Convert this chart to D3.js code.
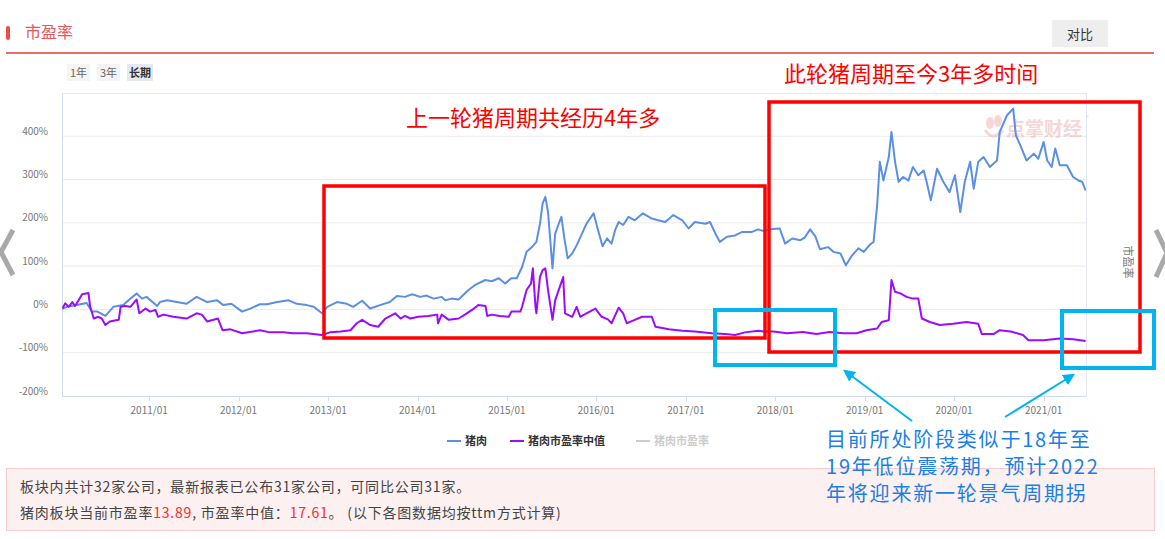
<!DOCTYPE html>
<html>
<head>
<meta charset="utf-8">
<title>市盈率</title>
<script src="https://d3js.org/d3.v7.min.js"></script>
<style>
  body { margin: 0; background: #fff; }
  text { font-family: "Noto Sans CJK SC", "Noto Sans", sans-serif; }
</style>
</head>
<body>
<script>
// series, time as decimal year, value in %
var porkSeries = [
  [2010.03,2],[2010.08,6],[2010.19,10],[2010.30,15],[2010.36,-5],[2010.42,-5],[2010.51,-15],[2010.60,6],
  [2010.71,10],[2010.79,25],[2010.86,37],[2010.92,25],[2010.97,29],[2011.09,8],[2011.12,17],[2011.20,21],
  [2011.31,17],[2011.42,13],[2011.53,29],[2011.65,17],[2011.76,21],[2011.83,10],[2011.92,13],[2012.04,-5],
  [2012.13,2],[2012.24,12],[2012.32,12],[2012.43,17],[2012.56,21],[2012.65,13],[2012.76,10],[2012.84,6],
  [2012.93,-9],[2012.99,6],[2013.10,17],[2013.21,13],[2013.28,6],[2013.38,20],[2013.47,2],[2013.58,10],
  [2013.69,17],[2013.77,31],[2013.86,29],[2013.94,35],[2014.03,29],[2014.10,32],[2014.18,25],[2014.27,29],
  [2014.31,21],[2014.38,25],[2014.46,23],[2014.57,45],[2014.64,56],[2014.76,68],[2014.83,65],[2014.91,72],
  [2014.98,60],[2015.05,72],[2015.11,72],[2015.17,98],[2015.22,133],[2015.28,144],[2015.33,156],[2015.37,198],
  [2015.40,245],[2015.43,260],[2015.46,225],[2015.51,95],[2015.54,175],[2015.58,198],[2015.61,214],[2015.64,168],
  [2015.68,118],[2015.73,129],[2015.78,148],[2015.84,175],[2015.89,198],[2015.97,222],[2016.02,183],[2016.07,146],
  [2016.12,164],[2016.17,152],[2016.21,183],[2016.25,202],[2016.30,195],[2016.36,214],[2016.43,206],[2016.52,222],
  [2016.62,210],[2016.69,206],[2016.77,202],[2016.86,218],[2016.96,206],[2017.03,187],[2017.10,202],[2017.22,198],
  [2017.27,202],[2017.33,175],[2017.38,156],[2017.46,168],[2017.55,171],[2017.63,179],[2017.74,179],[2017.81,185],
  [2017.87,181],[2017.94,185],[2018.05,187],[2018.11,152],[2018.19,164],[2018.28,160],[2018.33,166],[2018.39,185],
  [2018.45,168],[2018.50,139],[2018.59,144],[2018.65,133],[2018.73,129],[2018.79,102],[2018.86,125],[2018.93,141],
  [2018.99,133],[2019.06,150],[2019.10,156],[2019.14,241],[2019.17,341],[2019.21,298],[2019.27,352],[2019.30,410],
  [2019.34,341],[2019.38,295],[2019.43,306],[2019.49,298],[2019.54,329],[2019.60,310],[2019.66,321],[2019.69,298],
  [2019.74,252],[2019.81,325],[2019.88,295],[2019.95,271],[2020.01,310],[2020.07,225],[2020.12,295],[2020.18,341],
  [2020.22,279],[2020.27,341],[2020.33,352],[2020.40,329],[2020.48,344],[2020.51,410],[2020.59,448],[2020.66,464],
  [2020.69,402],[2020.74,379],[2020.81,344],[2020.89,360],[2020.94,348],[2021.00,387],[2021.04,344],[2021.09,329],
  [2021.13,372],[2021.18,333],[2021.26,333],[2021.33,306],[2021.39,298],[2021.43,295],[2021.47,275]
];

var medianSeries = [
  [2010.03,2],[2010.06,14],[2010.10,6],[2010.14,17],[2010.17,8],[2010.21,21],[2010.25,35],[2010.32,38],
  [2010.34,6],[2010.38,-21],[2010.43,-17],[2010.47,-21],[2010.51,-36],[2010.56,-28],[2010.66,-24],[2010.68,6],
  [2010.73,8],[2010.79,6],[2010.86,23],[2010.89,-9],[2010.96,2],[2011.01,-5],[2011.07,-1],[2011.10,-17],
  [2011.16,-12],[2011.27,-17],[2011.42,-21],[2011.53,-9],[2011.59,-12],[2011.65,-28],[2011.72,-24],[2011.77,-21],
  [2011.82,-48],[2011.91,-46],[2012.04,-55],[2012.24,-48],[2012.35,-53],[2012.50,-53],[2012.61,-55],[2012.76,-55],
  [2012.93,-59],[2013.02,-53],[2013.14,-51],[2013.25,-48],[2013.32,-32],[2013.38,-24],[2013.47,-36],[2013.56,-40],
  [2013.64,-21],[2013.75,-9],[2013.81,-21],[2013.86,-15],[2013.92,-21],[2014.01,-17],[2014.12,-15],[2014.22,-12],
  [2014.23,-32],[2014.27,-12],[2014.35,-24],[2014.46,-21],[2014.53,-12],[2014.63,2],[2014.68,10],[2014.76,8],
  [2014.78,-15],[2014.83,-12],[2014.92,-15],[2015.02,-17],[2015.05,-5],[2015.15,-5],[2015.17,6],[2015.22,45],
  [2015.27,60],[2015.29,95],[2015.32,6],[2015.33,-9],[2015.37,75],[2015.40,91],[2015.43,95],[2015.46,45],
  [2015.51,-24],[2015.54,21],[2015.58,45],[2015.63,75],[2015.65,-9],[2015.73,-17],[2015.78,6],[2015.82,-17],
  [2015.89,-9],[2015.99,2],[2016.06,-17],[2016.13,-23],[2016.17,-32],[2016.25,4],[2016.30,-9],[2016.34,-32],
  [2016.43,-24],[2016.51,-17],[2016.62,-17],[2016.66,-40],[2016.81,-46],[2016.96,-49],[2017.10,-51],[2017.29,-55],
  [2017.44,-57],[2017.55,-59],[2017.66,-53],[2017.81,-49],[2017.87,-51],[2017.98,-51],[2018.13,-55],[2018.31,-52],
  [2018.46,-57],[2018.61,-52],[2018.76,-55],[2018.91,-55],[2019.02,-48],[2019.14,-44],[2019.19,-29],[2019.27,-25],
  [2019.30,68],[2019.34,41],[2019.40,37],[2019.47,29],[2019.54,25],[2019.60,25],[2019.64,-21],[2019.73,-29],
  [2019.84,-36],[2019.99,-33],[2020.14,-29],[2020.27,-33],[2020.31,-57],[2020.44,-57],[2020.51,-48],[2020.63,-51],
  [2020.77,-59],[2020.83,-71],[2021.00,-71],[2021.18,-67],[2021.33,-69],[2021.47,-73]
];

var seriesNames = ["猪肉", "猪肉市盈率中值", "猪肉市盈率"];
var seriesColors = ["#5b8fe3", "#9b0cff", "#cccccc"];
var yTicks = [-200, -100, 0, 100, 200, 300, 400];
var periodButtons = ["1年", "3年", "长期"];
var xDomain = ["2010-01-10", "2021-06-23"];

function yearToDate(t) {
  var y = Math.floor(t);
  var a = Date.UTC(y, 0, 1), b = Date.UTC(y + 1, 0, 1);
  return new Date(a + (t - y) * (b - a));
}

var W = 1165, H = 539;
var plot = {left: 62, right: 1086, top: 93, bottom: 396};

var svg = d3.select("body").append("svg")
  .attr("width", W).attr("height", H);

// header
svg.append("rect").attr("x", 6).attr("y", 26).attr("width", 4).attr("height", 14)
  .attr("rx", 2).attr("fill", "#ef4a45");
svg.append("text").attr("x", 25).attr("y", 38).attr("font-size", 16)
  .attr("fill", "#e6575b").text("市盈率");
svg.append("line").attr("x1", 6).attr("x2", 1154).attr("y1", 53).attr("y2", 53)
  .attr("stroke", "#e23b3b").attr("stroke-width", 1.5);
svg.append("rect").attr("x", 1052).attr("y", 20).attr("width", 56).attr("height", 27)
  .attr("fill", "#eeeeee");
svg.append("text").attr("x", 1080).attr("y", 38.5).attr("text-anchor", "middle")
  .attr("font-size", 13).attr("fill", "#333").text("对比");

var btnX = [67, 97, 127];
periodButtons.forEach(function(b, i) {
  var w = i == 2 ? 26 : 23;
  svg.append("rect").attr("x", btnX[i]).attr("y", 64).attr("width", w).attr("height", 17)
    .attr("fill", i == 2 ? "#e4e8f1" : "#f4f4f4");
  svg.append("text").attr("x", btnX[i] + w / 2).attr("y", 76.5).attr("text-anchor", "middle")
    .attr("font-size", 11).attr("font-weight", i == 2 ? "bold" : "normal")
    .attr("fill", i == 2 ? "#333" : "#666").text(b);
});

// side chevrons
svg.append("polyline").attr("points", "13,230 1,252 13,275")
  .attr("fill", "none").attr("stroke", "#a9a9a9").attr("stroke-width", 5);
svg.append("polyline").attr("points", "1156,230 1167,253 1156,277")
  .attr("fill", "none").attr("stroke", "#a9a9a9").attr("stroke-width", 5);

// scales
var x = d3.scaleUtc().domain(xDomain.map(function(d) { return new Date(d); }))
  .range([plot.left, plot.right]);
var y = d3.scaleLinear().domain([-200, 500]).range([plot.bottom, plot.top]);

// grid
svg.append("g").selectAll("line").data(yTicks.filter(function(d) { return d > -200; }))
  .enter().append("line")
  .attr("x1", plot.left).attr("x2", plot.right)
  .attr("y1", function(d) { return y(d); }).attr("y2", function(d) { return y(d); })
  .attr("stroke", "#ebebeb");
svg.append("rect").attr("x", plot.left + 0.5).attr("y", plot.top + 0.5)
  .attr("width", plot.right - plot.left).attr("height", plot.bottom - plot.top)
  .attr("fill", "none").attr("stroke", "#e3e7f2");
svg.append("line").attr("x1", plot.left).attr("x2", plot.right)
  .attr("y1", plot.bottom + 0.5).attr("y2", plot.bottom + 0.5).attr("stroke", "#d4dbee");
svg.append("line").attr("x1", plot.left + 0.5).attr("x2", plot.left + 0.5)
  .attr("y1", plot.top).attr("y2", plot.bottom).attr("stroke", "#d4dbee");

// y labels
svg.append("g").selectAll("text").data(yTicks).enter().append("text")
  .attr("x", 48).attr("y", function(d) { return y(d) - 1.5; })
  .attr("text-anchor", "end").attr("font-size", 10).attr("fill", "#777")
  .text(function(d) { return d + "%"; });

// x axis
var xTicks = x.ticks(d3.utcYear.every(1));
var fmt = d3.utcFormat("%Y/%m");
svg.append("g").selectAll("line").data(xTicks).enter().append("line")
  .attr("x1", function(d) { return Math.round(x(d)) + 0.5; })
  .attr("x2", function(d) { return Math.round(x(d)) + 0.5; })
  .attr("y1", plot.bottom).attr("y2", plot.bottom + 5).attr("stroke", "#d4dbee");
svg.append("g").selectAll("text").data(xTicks).enter().append("text")
  .attr("x", function(d) { return x(d); }).attr("y", 414)
  .attr("text-anchor", "middle").attr("font-size", 10).attr("fill", "#777")
  .text(function(d) { return fmt(d); });

// watermark
var wm = svg.append("g").attr("opacity", 0.4);
wm.append("ellipse").attr("cx", 990).attr("cy", 123).attr("rx", 4).attr("ry", 6).attr("fill", "#e99a9a");
wm.append("ellipse").attr("cx", 998).attr("cy", 121).attr("rx", 4).attr("ry", 6).attr("fill", "#e99a9a");
wm.append("path").attr("d", "M985,130 Q993,142 1003,130").attr("fill", "none")
  .attr("stroke", "#e99a9a").attr("stroke-width", 3);
wm.append("text").attr("x", 1006).attr("y", 136).attr("font-size", 19).attr("font-weight", "bold")
  .attr("fill", "#e99a9a").text("点掌财经");
wm.append("text").attr("x", 1086).attr("y", 120).attr("font-size", 6)
  .attr("fill", "#e99a9a").text("®");

// lines
var line = d3.line()
  .x(function(d) { return x(yearToDate(d[0])); })
  .y(function(d) { return y(d[1]); });
svg.append("clipPath").attr("id", "clip").append("rect")
  .attr("x", plot.left).attr("y", plot.top).attr("width", plot.right - plot.left)
  .attr("height", plot.bottom - plot.top);
[porkSeries, medianSeries].forEach(function(s, i) {
  svg.append("path").datum(s).attr("d", line)
    .attr("clip-path", "url(#clip)")
    .attr("fill", "none").attr("stroke", seriesColors[i])
    .attr("stroke-width", 2).attr("stroke-linejoin", "round");
});

// right axis name
svg.append("text").attr("transform", "translate(1124,262) rotate(90)")
  .attr("text-anchor", "middle").attr("font-size", 11).attr("fill", "#777").text("市盈率");

// legend
var legX = [447, 510, 636];
seriesNames.forEach(function(n, i) {
  svg.append("line").attr("x1", legX[i]).attr("x2", legX[i] + 14)
    .attr("y1", 441).attr("y2", 441).attr("stroke", seriesColors[i]).attr("stroke-width", 2);
  svg.append("text").attr("x", legX[i] + 18).attr("y", 445).attr("font-size", 11)
    .attr("font-weight", "bold").attr("fill", i == 2 ? "#cccccc" : "#333").text(n);
});

// info box
svg.append("rect").attr("x", 6.5).attr("y", 468.5).attr("width", 1148).attr("height", 62)
  .attr("fill", "#fdf0f1").attr("stroke", "#f8ccd0");
svg.append("text").attr("x", 20).attr("y", 492).attr("font-size", 14).attr("letter-spacing", 0.8)
  .attr("fill", "#444")
  .text("板块内共计32家公司，最新报表已公布31家公司，可同比公司31家。");
var t2 = svg.append("text").attr("x", 20).attr("y", 518).attr("font-size", 14)
  .attr("letter-spacing", 0.8).attr("fill", "#444");
t2.append("tspan").text("猪肉板块当前市盈率");
t2.append("tspan").attr("fill", "#ff2a2a").text("13.89");
t2.append("tspan").text(", 市盈率中值：");
t2.append("tspan").attr("fill", "#ff2a2a").text("17.61");
t2.append("tspan").text("。  (以下各图数据均按ttm方式计算)");

// annotations
var ann = svg.append("g");
ann.append("rect").attr("x", 324).attr("y", 186).attr("width", 441).attr("height", 152)
  .attr("fill", "none").attr("stroke", "#ff0000").attr("stroke-width", 3.5);
ann.append("rect").attr("x", 769).attr("y", 102).attr("width", 371).attr("height", 250)
  .attr("fill", "none").attr("stroke", "#ff0000").attr("stroke-width", 3.5);
ann.append("text").attr("x", 406).attr("y", 126).attr("font-size", 22).attr("fill", "#ff0000")
  .text("上一轮猪周期共经历4年多");
ann.append("text").attr("x", 784).attr("y", 82).attr("font-size", 22).attr("fill", "#ff0000")
  .text("此轮猪周期至今3年多时间");

ann.append("rect").attr("x", 715).attr("y", 310).attr("width", 120).attr("height", 55)
  .attr("fill", "none").attr("stroke", "#00b4f0").attr("stroke-width", 4);
ann.append("rect").attr("x", 1062).attr("y", 311).attr("width", 92).attr("height", 57)
  .attr("fill", "none").attr("stroke", "#00b4f0").attr("stroke-width", 4);

svg.append("defs").append("marker").attr("id", "arr").attr("viewBox", "0 0 10 10")
  .attr("refX", 8).attr("refY", 5).attr("markerWidth", 6).attr("markerHeight", 6)
  .attr("orient", "auto").append("path").attr("d", "M0,0 L10,5 L0,10 z").attr("fill", "#00b4f0");
ann.append("line").attr("x1", 912).attr("y1", 421).attr("x2", 845).attr("y2", 371)
  .attr("stroke", "#00b4f0").attr("stroke-width", 2).attr("marker-end", "url(#arr)");
ann.append("line").attr("x1", 1005).attr("y1", 417).attr("x2", 1073).attr("y2", 375)
  .attr("stroke", "#00b4f0").attr("stroke-width", 2).attr("marker-end", "url(#arr)");

var blueLines = ["目前所处阶段类似于18年至", "19年低位震荡期，预计2022", "年将迎来新一轮景气周期拐"];
ann.selectAll(".note").data(blueLines).enter().append("text")
  .attr("x", 826).attr("y", function(d, i) { return 447 + i * 27; })
  .attr("font-size", 20).attr("letter-spacing", 1.8)
  .attr("fill", "#1a7fe6").text(function(d) { return d; });
</script>
</body>
</html>
